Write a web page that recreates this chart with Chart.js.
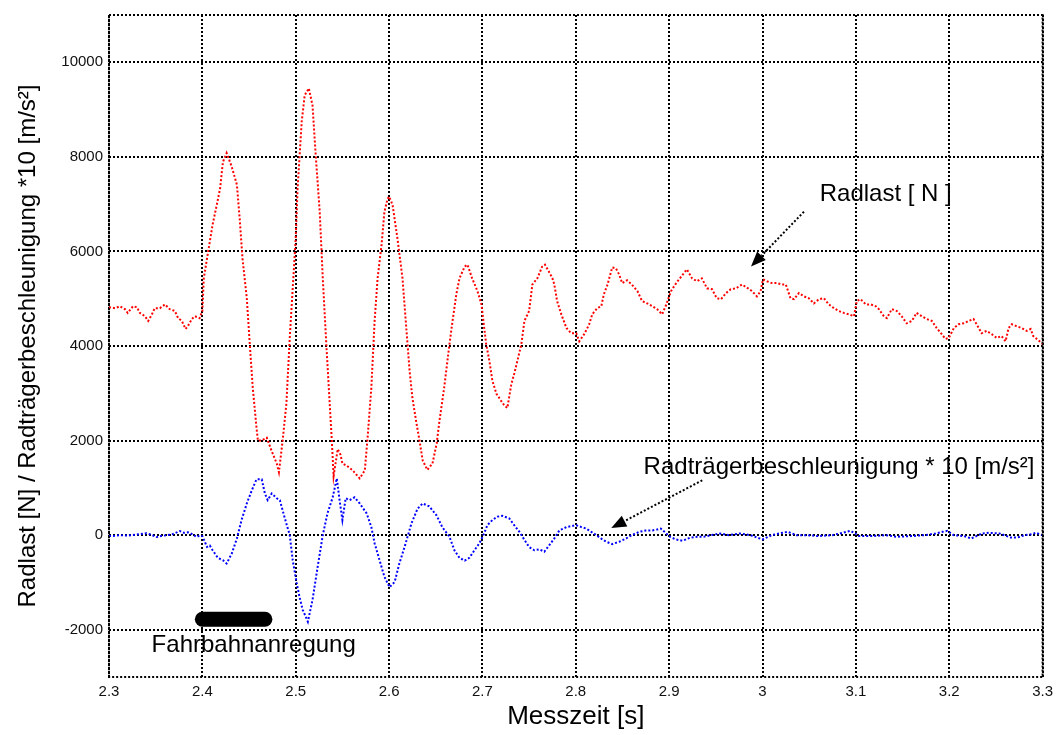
<!DOCTYPE html>
<html>
<head>
<meta charset="utf-8">
<script src="https://cdn.jsdelivr.net/npm/chart.js@4/dist/chart.umd.min.js"></script>
<style>
  html, body { margin: 0; padding: 0; background: #fff; }
  #wrap { width: 1059px; height: 735px; position: relative; }
</style>
</head>
<body>
<div id="wrap"><canvas id="c" width="1059" height="735"></canvas></div>
<script>
// ---- Data ----
const radlastTime = [
  2.300,2.3064,2.3118,2.317,2.320,2.3257,2.330,2.333,2.3385,2.342,2.346,2.349,2.3545,2.360,2.365,2.3706,2.374,2.378,2.382,2.3845,2.3888,2.392,2.397,2.400,
  2.4015,2.405,2.408,2.411,2.4155,2.419,2.422,2.426,2.4315,2.437,2.440,2.443,2.4476,2.4508,2.454,2.458,2.4595,2.4636,2.469,2.474,2.4797,2.482,2.486,2.490,2.4936,2.4968,
  2.500,2.502,2.5064,2.5096,2.514,2.518,2.5214,2.5257,2.529,2.533,2.5364,2.5385,2.5406,2.545,2.548,2.550,2.5545,2.561,2.5685,2.574,2.577,2.581,2.5845,2.5877,2.592,2.595,2.5984,
  2.600,2.6037,2.609,2.6144,2.6187,2.622,2.625,2.6294,2.6326,2.636,2.641,2.6465,2.651,2.654,2.659,2.6647,2.668,2.672,2.6754,2.681,2.684,2.689,2.6947,2.699,
  2.701,2.704,2.7075,2.7107,2.715,2.720,2.7235,2.7267,2.731,2.734,2.7374,2.7417,2.745,2.750,2.7535,2.7588,2.764,2.767,2.771,2.775,2.777,2.780,2.7845,2.790,2.795,
  2.8005,2.8037,2.809,2.8144,2.8176,2.823,2.8273,2.830,2.834,2.839,2.843,2.8465,2.8497,2.855,2.860,2.866,2.871,2.8765,2.882,2.887,2.8925,2.897,
  2.902,2.9075,2.913,2.919,2.9246,2.930,2.935,2.9406,2.946,2.951,2.9556,2.961,2.966,2.9717,2.978,2.983,2.9888,2.994,2.998,
  3.0005,3.0048,3.010,3.0155,3.021,3.025,3.030,3.0337,3.039,3.0444,3.0497,3.055,3.0604,3.0658,3.071,3.0765,3.0818,3.087,3.0925,3.098,
  3.101,3.105,3.1107,3.116,3.1214,3.1246,3.130,3.1332,3.1385,3.144,3.149,3.1545,3.160,3.165,3.1706,3.176,3.1813,3.1866,3.192,3.196,3.1995,
  3.205,3.210,3.2155,3.221,3.226,3.2294,3.2348,3.240,3.2455,3.251,3.256,3.2604,3.2636,3.267,3.272,3.2775,3.283,3.2872,3.290,3.2957,3.300
];
const radlastN = [
  4820,4800,4840,4780,4700,4840,4820,4700,4630,4530,4670,4800,4800,4880,4780,4740,4590,4530,4360,4420,4570,4630,4590,4740,
  5430,5850,6210,6570,6990,7330,7890,8080,7790,7410,6690,5850,5010,4040,3115,2270,2000,2000,2060,1790,1515,1330,2000,2780,4170,5220,
  6270,7330,8740,9300,9450,9090,8040,6840,5430,3960,2780,2060,1250,1820,1700,1515,1470,1370,1200,1370,2060,3115,4530,5430,6150,6840,7110,
  7160,6990,6270,5430,4315,3470,2900,2360,2000,1580,1380,1515,1940,2420,3115,4040,4530,5090,5430,5680,5720,5430,5160,4880,
  4530,4040,3680,3260,2990,2840,2740,2690,3200,3410,3680,4040,4530,4740,5300,5430,5680,5720,5580,5430,5300,4950,4670,4380,4270,
  4270,4100,4250,4460,4670,4800,4840,5090,5300,5660,5640,5510,5330,5390,5300,5160,4950,4900,4840,4780,4670,4880,
  5160,5330,5470,5620,5430,5370,5430,5220,5200,5010,4990,5120,5200,5220,5300,5240,5160,5050,5160,
  5410,5370,5330,5330,5300,5300,5010,4990,5120,5050,5010,4900,4990,5010,4880,4800,4740,4700,4670,4630,
  4950,4990,4880,4880,4840,4780,4630,4590,4780,4740,4630,4480,4530,4700,4630,4570,4530,4380,4250,4150,4170,
  4380,4460,4480,4530,4570,4460,4270,4320,4250,4170,4210,4100,4380,4460,4420,4380,4320,4360,4210,4120,4040
];
const beschlTime = [
  2.300,2.306,2.312,2.318,2.325,2.333,2.340,2.345,2.351,2.356,2.362,2.368,2.376,2.380,2.3845,2.389,2.394,2.397,2.400,
  2.405,2.408,2.411,2.4166,2.422,2.426,2.4315,2.437,2.442,2.4476,2.453,2.458,2.4636,2.467,2.470,2.4743,2.4797,2.483,2.488,2.4936,2.4968,
  2.501,2.504,2.5075,2.513,2.518,2.5235,2.529,2.534,2.5396,2.544,2.547,2.550,2.5535,2.5578,2.563,2.5685,2.576,2.581,2.5845,2.5898,2.595,
  2.6005,2.606,2.611,2.6166,2.624,2.6305,2.636,2.643,2.6508,2.657,2.6647,2.670,2.6754,2.681,2.686,2.6914,2.6968,
  2.701,2.7053,2.7107,2.716,2.7214,2.7289,2.734,2.7396,2.745,2.750,2.7556,2.761,2.7663,2.7717,2.777,2.7824,2.790,2.795,
  2.8005,2.806,2.811,2.8166,2.822,2.827,2.8326,2.839,2.8465,2.854,2.860,2.868,2.875,2.882,2.887,2.891,2.895,
  2.901,2.907,2.9145,2.922,2.930,2.937,2.945,2.9546,2.964,2.9756,2.987,
  3.000,3.010,3.0175,3.027,3.0366,3.048,3.0595,3.075,3.086,3.094,3.098,
  3.1034,3.1168,3.132,3.1435,3.159,3.174,3.1855,3.193,3.198,
  3.2046,3.216,3.2237,3.235,3.2427,3.254,3.2656,3.273,3.281,3.2885,3.2927,3.300
];
const beschlX10 = [
  -20,-15,0,-10,0,20,40,10,-40,-20,0,20,85,50,60,20,-40,-10,-20,
  -250,-220,-320,-480,-530,-600,-390,-70,320,670,950,1180,1180,880,740,880,780,740,380,0,-530,
  -1010,-1300,-1580,-1830,-1370,-670,0,460,800,1200,740,320,780,740,800,670,460,170,-170,-530,-880,
  -1100,-990,-600,-250,250,560,670,610,420,170,-35,-320,-480,-540,-480,-320,-170,
  0,210,320,390,410,350,210,70,-100,-250,-320,-300,-350,-210,-70,100,170,190,
  210,170,140,70,0,-70,-140,-190,-140,-70,0,70,100,100,120,140,70,
  -35,-90,-120,-56,-35,-35,0,35,0,35,0,
  -90,0,35,70,0,0,-20,0,50,90,50,
  -20,-20,0,-35,-20,0,35,70,90,
  0,-20,-70,35,50,35,-50,-50,0,20,50,0
];
const anregungTime = [2.400, 2.467];
const anregungLevel = [-1780, -1780];

const xTicks = [2.3,2.4,2.5,2.6,2.7,2.8,2.9,3.0,3.1,3.2,3.3];
const yTicks = [-2000,0,2000,4000,6000,8000,10000];
const xRange = [2.3, 3.3];
const yRange = [-3000, 11000];

// annotation anchors in data units
const annotTexts = ["Radlast [ N ]", "Radträgerbeschleunigung * 10 [m/s²]", "Fahrbahnanregung"];
const annotTextX = [3.132, 3.082, 2.455];
const annotTextY = [7200, 1430, -2330];
const arrowFromX = [3.0444, 2.9355];
const arrowFromY = [6840, 1160];
const arrowToX = [2.9877, 2.838];
const arrowToY = [5680, 150];

const FONT = '"Liberation Sans", Arial, Helvetica, sans-serif';

const annotPlugin = {
  id: 'annot',
  afterDatasetsDraw(chart) {
    const {ctx, chartArea: a, scales: {x, y}} = chart;
    ctx.save();
    // dotted frame
    ctx.strokeStyle = '#000';
    ctx.lineWidth = 2;
    ctx.setLineDash([2, 2]);
    ctx.strokeRect(a.left, a.top, a.right - a.left, a.bottom - a.top);
    // arrows
    for (let i = 0; i < arrowFromX.length; i++) {
      const x1 = x.getPixelForValue(arrowFromX[i]), y1 = y.getPixelForValue(arrowFromY[i]);
      const x2 = x.getPixelForValue(arrowToX[i]), y2 = y.getPixelForValue(arrowToY[i]);
      const ang = Math.atan2(y2 - y1, x2 - x1);
      const hl = 15, hw = 6;
      const bx = x2 - hl * Math.cos(ang), by = y2 - hl * Math.sin(ang);
      ctx.setLineDash([2, 2]);
      ctx.lineWidth = 2;
      ctx.beginPath(); ctx.moveTo(x1, y1); ctx.lineTo(bx, by); ctx.stroke();
      ctx.setLineDash([]);
      ctx.fillStyle = '#000';
      ctx.beginPath();
      ctx.moveTo(x2, y2);
      ctx.lineTo(bx + hw * Math.sin(ang), by - hw * Math.cos(ang));
      ctx.lineTo(bx - hw * Math.sin(ang), by + hw * Math.cos(ang));
      ctx.closePath(); ctx.fill();
    }
    // texts
    ctx.fillStyle = '#000';
    ctx.font = '24px ' + FONT;
    ctx.textAlign = 'center';
    ctx.textBaseline = 'middle';
    for (let i = 0; i < annotTexts.length; i++) {
      ctx.fillText(annotTexts[i], x.getPixelForValue(annotTextX[i]), y.getPixelForValue(annotTextY[i]));
    }
    ctx.restore();
  }
};

const toPts = (xs, ys) => xs.map((t, i) => ({x: t, y: ys[i]}));

new Chart(document.getElementById('c'), {
  type: 'line',
  data: {
    datasets: [
      {
        label: 'Fahrbahnanregung',
        data: toPts(anregungTime, anregungLevel),
        borderColor: '#000',
        borderWidth: 15,
        borderCapStyle: 'round',
        pointRadius: 0
      },
      {
        label: 'Radlast [N]',
        data: toPts(radlastTime, radlastN),
        borderColor: '#ff0000',
        borderWidth: 2,
        borderDash: [2, 2],
        pointRadius: 0,
        tension: 0
      },
      {
        label: 'Radträgerbeschleunigung * 10',
        data: toPts(beschlTime, beschlX10),
        borderColor: '#0000ff',
        borderWidth: 2,
        borderDash: [2, 2],
        pointRadius: 0,
        tension: 0
      }
    ]
  },
  options: {
    responsive: false,
    animation: false,
    devicePixelRatio: 1,
    layout: { padding: { top: 11, right: 15, left: 0, bottom: 0 } },
    plugins: { legend: { display: false }, tooltip: { enabled: false } },
    scales: {
      x: {
        type: 'linear',
        min: xRange[0], max: xRange[1],
        afterBuildTicks: s => { s.ticks = xTicks.map(v => ({value: v})); },
        afterFit: s => { s.height = 58; },
        ticks: {
          color: '#111', padding: 6, maxRotation: 0, autoSkip: false,
          font: { family: FONT, size: 15 },
          callback: v => String(Math.round(v * 10) / 10)
        },
        grid: { color: '#000', lineWidth: 2, drawTicks: false },
        border: { display: false, dash: [2, 2] },
        title: { display: true, text: 'Messzeit [s]', color: '#000',
                 font: { family: FONT, size: 26 }, padding: { top: 0, bottom: 3 } }
      },
      y: {
        type: 'linear',
        min: yRange[0], max: yRange[1],
        afterBuildTicks: s => { s.ticks = yTicks.map(v => ({value: v})); },
        afterFit: s => { s.width = 109; },
        ticks: {
          color: '#111', padding: 6, autoSkip: false,
          font: { family: FONT, size: 15 },
          callback: v => String(v)
        },
        grid: { color: '#000', lineWidth: 2, drawTicks: false },
        border: { display: false, dash: [2, 2] },
        title: { display: true, text: 'Radlast [N] / Radträgerbeschleunigung *10 [m/s²]', color: '#000',
                 font: { family: FONT, size: 24 }, padding: { top: 14, bottom: 0 } }
      }
    }
  },
  plugins: [annotPlugin]
});
</script>
</body>
</html>
